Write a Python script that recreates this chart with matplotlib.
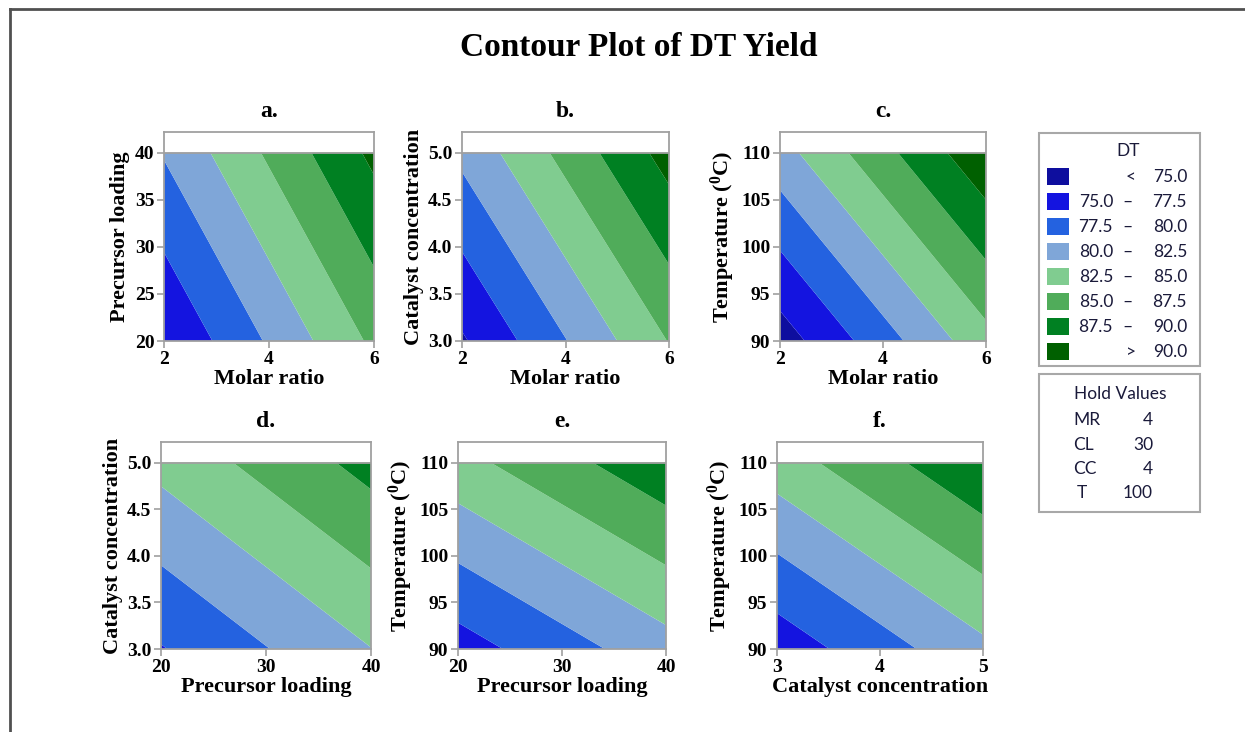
import numpy as np
import matplotlib
matplotlib.use("Agg")
import matplotlib.pyplot as plt
from matplotlib.patches import Rectangle
from matplotlib.lines import Line2D

# ---- factors of the response-surface model ----
factor_labels = ["Molar ratio", "Precursor loading", "Catalyst concentration",
                 "Temperature ($^{0}$C)"]
factor_codes = ["MR", "CL", "CC", "T"]
factor_low = [2, 20, 3.0, 90]
factor_high = [6, 40, 5.0, 110]
hold_values = [4, 30, 4, 100]
x_ticks = [[2, 4, 6], [20, 30, 40], [3, 4, 5], [90, 100, 110]]
y_ticks = [[2, 3, 4, 5, 6], [20, 25, 30, 35, 40],
           [3.0, 3.5, 4.0, 4.5, 5.0], [90, 95, 100, 105, 110]]
y_fmt = ["{:g}", "{:g}", "{:.1f}", "{:g}"]

# fitted DT yield: value at hold point plus slope per unit of each factor
dt_at_hold = 82.85
dt_slopes = [2.60, 0.255, 2.95, 0.39]

# contour bands
band_edges = [75.0, 77.5, 80.0, 82.5, 85.0, 87.5, 90.0]
band_colors = ["#0E0E9E", "#1414E0", "#2462E0", "#7FA6D8",
               "#80CC90", "#50AC5A", "#008022", "#006000"]

# panels: (x factor, y factor, letter)
panel_x = [0, 0, 0, 1, 1, 2]
panel_y = [1, 2, 3, 2, 3, 3]
panel_letter = ["a.", "b.", "c.", "d.", "e.", "f."]

# axes boxes in pixels: left, right, top, bottom
panel_box = [(164, 374, 132, 341), (462, 669, 132, 341), (780, 986, 132, 341),
             (161, 371, 442, 649), (458, 666, 442, 649), (777, 983, 442, 649)]

W, H = 1245, 732
plt.rcParams["mathtext.fontset"] = "custom"
plt.rcParams["mathtext.rm"] = "Liberation Serif:bold"
plt.rcParams["mathtext.it"] = "Liberation Serif:bold"
plt.rcParams["mathtext.bf"] = "Liberation Serif:bold"

fig = plt.figure(figsize=(W / 100, H / 100), dpi=100)
fig.patch.set_facecolor("white")

serif = "Liberation Serif"
sans = "Lato"
box_txt = "#1A1A3A"
frame_col = "#A0A0A0"


def dt_model(vals):
    out = dt_at_hold
    for i in range(4):
        out = out + dt_slopes[i] * (vals[i] - hold_values[i])
    return out


levels = [0.0] + band_edges + [200.0]

for k in range(6):
    fx, fy = panel_x[k], panel_y[k]
    l, r, t, b = panel_box[k]
    ax = fig.add_axes([l / W, 1 - b / H, (r - l) / W, (b - t) / H])
    xs = np.linspace(factor_low[fx], factor_high[fx], 300)
    ys = np.linspace(factor_low[fy], factor_high[fy], 300)
    X, Y = np.meshgrid(xs, ys)
    vals = [np.full_like(X, hv, dtype=float) for hv in hold_values]
    vals[fx] = X
    vals[fy] = Y
    Z = dt_model(vals)
    ax.contourf(X, Y, Z, levels=levels, colors=band_colors, antialiased=True)

    span = factor_high[fy] - factor_low[fy]
    ax.set_xlim(factor_low[fx], factor_high[fx])
    ax.set_ylim(factor_low[fy], factor_high[fy] + 0.11 * span)
    ax.axhline(factor_high[fy], color=frame_col, lw=1.3)
    for s in ax.spines.values():
        s.set_color(frame_col)
        s.set_linewidth(1.3)
    ax.set_xticks(x_ticks[fx])
    ax.set_xticklabels([f"{v:g}" for v in x_ticks[fx]])
    ax.set_yticks(y_ticks[fy])
    ax.set_yticklabels([y_fmt[fy].format(v) for v in y_ticks[fy]])
    ax.tick_params(direction="out", length=5, width=1.2, color=frame_col,
                   pad=2, labelsize=14)
    for lab in ax.get_xticklabels() + ax.get_yticklabels():
        lab.set_family(serif)
        lab.set_weight("bold")
    ax.set_xlabel(factor_labels[fx], family=serif, weight="bold",
                  fontsize=16, labelpad=1)
    ax.set_ylabel(factor_labels[fy], family=serif, weight="bold",
                  fontsize=16, labelpad=3)
    ax.set_title(panel_letter[k], family=serif, weight="bold",
                 fontsize=17, pad=11)

fig.text(0.5 * (449 + 828) / W, 1 - 47 / H, "Contour Plot of DT Yield",
         ha="center", va="center", family=serif, weight="bold", fontsize=24)

# figure border (top and left)
fig.add_artist(Line2D([10 / W, 10 / W], [0, 1 - 9 / H], color="#505050", lw=2))
fig.add_artist(Line2D([10 / W, 1], [1 - 9 / H, 1 - 9 / H], color="#505050", lw=2))


def px(x, y):
    return x / W, 1 - y / H


fs = 12.5
# ---- legend box ----
lx0, lx1, ly0, ly1 = 1039, 1200, 133, 366
fig.add_artist(Rectangle(px(lx0, ly1), (lx1 - lx0) / W, (ly1 - ly0) / H,
                         fill=False, edgecolor="#A8A8A8", lw=1.5))
fig.text(*px(1128, 151), "DT", ha="center", va="center", family=sans,
         fontsize=fs, color=box_txt)
row_y = [177 + 25 * i for i in range(8)]
for i, c in enumerate(band_colors):
    yy = row_y[i]
    fig.add_artist(Rectangle(px(1047, yy + 8), 22 / W, 17 / H,
                             facecolor=c, edgecolor="none"))
    if i == 0:
        fig.text(*px(1131, yy), "<", ha="center", va="center", family=sans,
                 fontsize=fs, color=box_txt)
        fig.text(*px(1187, yy), f"{band_edges[0]:.1f}", ha="right", va="center",
                 family=sans, fontsize=fs, color=box_txt)
    elif i == len(band_colors) - 1:
        fig.text(*px(1131, yy), ">", ha="center", va="center", family=sans,
                 fontsize=fs, color=box_txt)
        fig.text(*px(1187, yy), f"{band_edges[-1]:.1f}", ha="right", va="center",
                 family=sans, fontsize=fs, color=box_txt)
    else:
        fig.text(*px(1113, yy), f"{band_edges[i - 1]:.1f}", ha="right", va="center",
                 family=sans, fontsize=fs, color=box_txt)
        fig.text(*px(1127, yy), "\u2013", ha="center", va="center", family=sans,
                 fontsize=fs, color=box_txt)
        fig.text(*px(1187, yy), f"{band_edges[i]:.1f}", ha="right", va="center",
                 family=sans, fontsize=fs, color=box_txt)

# ---- hold values box ----
hx0, hx1, hy0, hy1 = 1039, 1200, 374, 512
fig.add_artist(Rectangle(px(hx0, hy1), (hx1 - hx0) / W, (hy1 - hy0) / H,
                         fill=False, edgecolor="#A8A8A8", lw=1.5))
fig.text(*px(1120, 394), "Hold Values", ha="center", va="center", family=sans,
         fontsize=fs, color=box_txt)
for i, (code, hv) in enumerate(zip(factor_codes, hold_values)):
    yy = 420 + 24.5 * i
    x_code = 1077 if code == "T" else 1073
    fig.text(*px(x_code, yy), code, ha="left", va="center", family=sans,
             fontsize=fs, color=box_txt)
    fig.text(*px(1153, yy), f"{hv:g}", ha="right", va="center", family=sans,
             fontsize=fs, color=box_txt)

fig.savefig("out.png", dpi=100, facecolor="white")
